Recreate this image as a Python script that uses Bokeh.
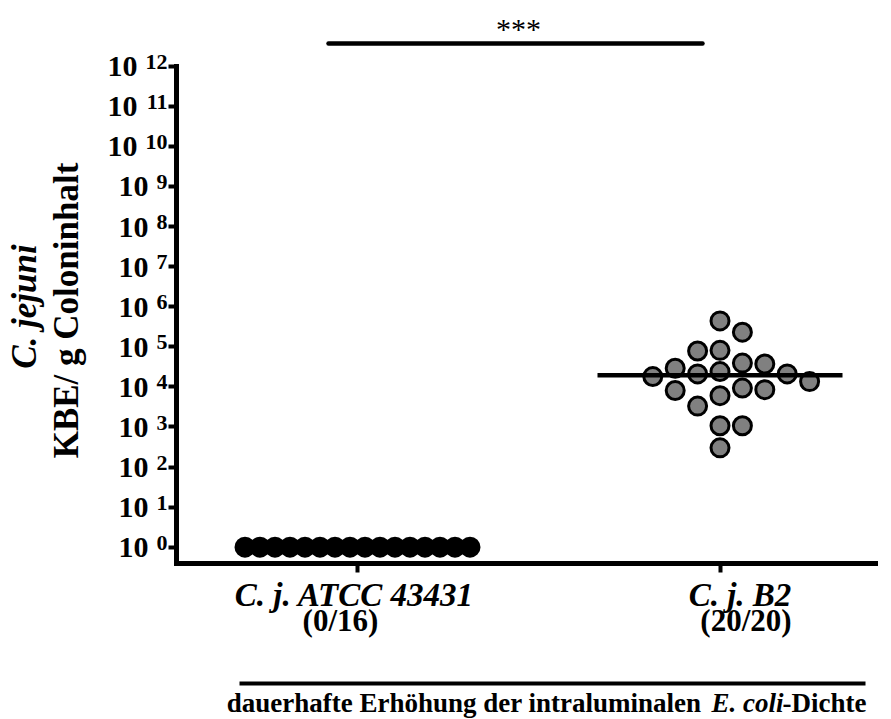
import math
from bokeh.plotting import figure
from bokeh.models import Label, Arrow, FixedTicker, Range1d, LinearAxis, LogAxis
from bokeh.embed import file_html
from bokeh.resources import INLINE

# ---------------- data ----------------
groups = ["C. j. ATCC 43431", "C. j. B2"]
group_counts = ["(0/16)", "(20/20)"]
# CFU per g colon content (values below detection shown at 10^0)
atcc_kbe = [1, 1, 1, 1, 1, 1, 1, 1, 1, 1, 1, 1, 1, 1, 1, 1]
b2_kbe = [4.4e5, 2.3e5, 8.1e4, 7.8e4, 3.9e4, 3.7e4, 2.9e4, 2.4e4, 2.1e4, 2.1e4,
          1.8e4, 1.35e4, 9.3e3, 8.5e3, 8.1e3, 6.0e3, 3.3e3, 1.07e3, 1.07e3, 3.0e2]
tick_exponents = [0, 1, 2, 3, 4, 5, 6, 7, 8, 9, 10, 11, 12]
significance = "***"
ylabel_1 = "C. jejuni"
ylabel_2 = "KBE/ g Coloninhalt"
bottom_text = ["dauerhafte Erhöhung der intraluminalen", "E. coli", "-Dichte"]

# ---------------- layout (pixel geometry of the plot area) ----------------
W, H = 891, 719
FL, FR, FB = 176, 875, 563                  # axis corner / ends (px)
DEC = 40.1                                  # px per decade
LO = -(FB - 546.7) / DEC                    # log10 at x-axis
S = 362.5                                   # px per x unit
X0 = 1 - (357 - FL) / S                     # x value at y-axis
BL = 0.38                                   # baseline correction (fraction of font size)

def X(px):
    return X0 + (px - FL) / S

def Y(py):
    return 10 ** (LO + (FB - py) / DEC)

def ypx(v):
    return FB - (math.log10(v) - LO) * DEC

FONT = "Liberation Serif"

def label(x, y, text, size, style="bold", align="center", angle=0.0):
    return Label(x=x, y=y, text=text, angle=angle, text_align=align,
                 text_baseline="alphabetic", text_font=FONT, text_font_style=style,
                 text_font_size=f"{size}px", text_color="black")

p = figure(width=W, height=H, x_range=Range1d(X(0), X(W)), y_range=Range1d(Y(H), Y(0)),
           y_axis_type="log", x_axis_location=None, y_axis_location=None,
           output_backend="svg", toolbar_location=None,
           min_border_left=0, min_border_right=0, min_border_top=0, min_border_bottom=0)
p.outline_line_color = None
p.grid.visible = False
p.background_fill_color = "white"
p.border_fill_color = "white"

ytick_vals = [10.0 ** k for k in tick_exponents]
yax = LogAxis(fixed_location=X(FL), bounds=(10 ** LO, 10.0 ** tick_exponents[-1]),
              ticker=FixedTicker(ticks=ytick_vals, minor_ticks=[]),
              major_label_overrides={v: "" for v in ytick_vals},
              axis_line_width=5, axis_line_cap="square",
              major_tick_line_width=4, major_tick_out=8, major_tick_in=0)
p.add_layout(yax, "left")
xax = LinearAxis(fixed_location=10 ** LO, bounds=(X(FL), X(FR)),
                 ticker=FixedTicker(ticks=[1, 2], minor_ticks=[]),
                 major_label_overrides={1: "", 2: ""},
                 axis_line_width=5, axis_line_cap="square",
                 major_tick_line_width=4, major_tick_out=9, major_tick_in=0)
p.add_layout(xax, "below")

# ---------------- swarm placement ----------------
STEP, DIAM = 22.4, 19.5

def swarm(vals, max_half):
    order = sorted(range(len(vals)), key=lambda i: -vals[i])
    cands = [0] + [s for n in range(1, 40) for s in (n, -n)]
    placed, slots = [], [0] * len(vals)
    for i in order:
        py = ypx(vals[i])
        for c in cands:
            if all(((c - s) * STEP) ** 2 + (py - q) ** 2 >= DIAM ** 2 for s, q in placed):
                break
        placed.append((c, py))
        slots[i] = c
    lo_, hi_ = min(slots), max(slots)
    if (hi_ - lo_) * STEP > 2 * max_half:
        st = 2 * max_half / (hi_ - lo_)
        mid = (hi_ + lo_) / 2
        return [(s - mid) * st for s in slots]
    return [s * STEP for s in slots]

MED_HALF = 122.5 / S
series = [(atcc_kbe, "black"), (b2_kbe, "#808080")]
for gi, (vals, fill) in enumerate(series):
    gx = gi + 1
    offs = swarm(vals, 112.5)
    xs = [gx + o / S for o in offs]
    p.scatter(xs, vals, size=18, fill_color=fill, line_color="black", line_width=3)
    srt = sorted(vals)
    n = len(srt)
    med = srt[n // 2] if n % 2 else (srt[n // 2 - 1] + srt[n // 2]) / 2
    p.line([gx - MED_HALF, gx + MED_HALF], [med, med], line_color="black", line_width=4.5)

# ---------------- tick labels ("10" with superscript exponent) ----------------
for k in tick_exponents:
    two = k >= 10
    p.add_layout(label(X(137 if two else 148), 10 ** (k - (12 - BL * 30) / DEC), "10", 30,
                       align="right"))
    p.add_layout(label(X(167), 10 ** (k - (4 - BL * 22) / DEC), str(k), 22, align="right"))

# ---------------- axis titles ----------------
p.add_layout(label(X(37 - BL * 35), Y(306), ylabel_1, 35, style="bold italic", angle=math.pi / 2))
p.add_layout(label(X(79 - BL * 35), Y(310), ylabel_2, 35, angle=math.pi / 2))

# group labels
name_off = [-3, 20]
count_off = [-17, 26]
for gi in range(2):
    gx = gi + 1
    p.add_layout(label(gx + name_off[gi] / S, Y(607 - BL * 33), groups[gi], 33,
                       style="bold italic"))
    p.add_layout(label(gx + count_off[gi] / S, Y(632 - BL * 31), group_counts[gi], 31))

# significance bar
p.add_layout(Arrow(start=None, end=None, x_start=X(328), y_start=Y(43), x_end=X(702), y_end=Y(43),
                   line_width=4.5, line_color="black", line_cap="round"))
p.add_layout(label(X(518), Y(39 - BL * 30), significance, 30, style="normal"))

# bottom line and caption
p.add_layout(Arrow(start=None, end=None, x_start=X(239), y_start=Y(683), x_end=X(865), y_end=Y(683),
                   line_width=4, line_color="black"))
yb = Y(713 - BL * 27)
p.add_layout(label(X(701), yb, bottom_text[0], 27, align="right"))
p.add_layout(label(X(711), yb, bottom_text[1], 27, style="bold italic", align="left"))
p.add_layout(label(X(866), yb, bottom_text[2], 27, align="right"))

open("out.html", "w").write(file_html(p, INLINE))
